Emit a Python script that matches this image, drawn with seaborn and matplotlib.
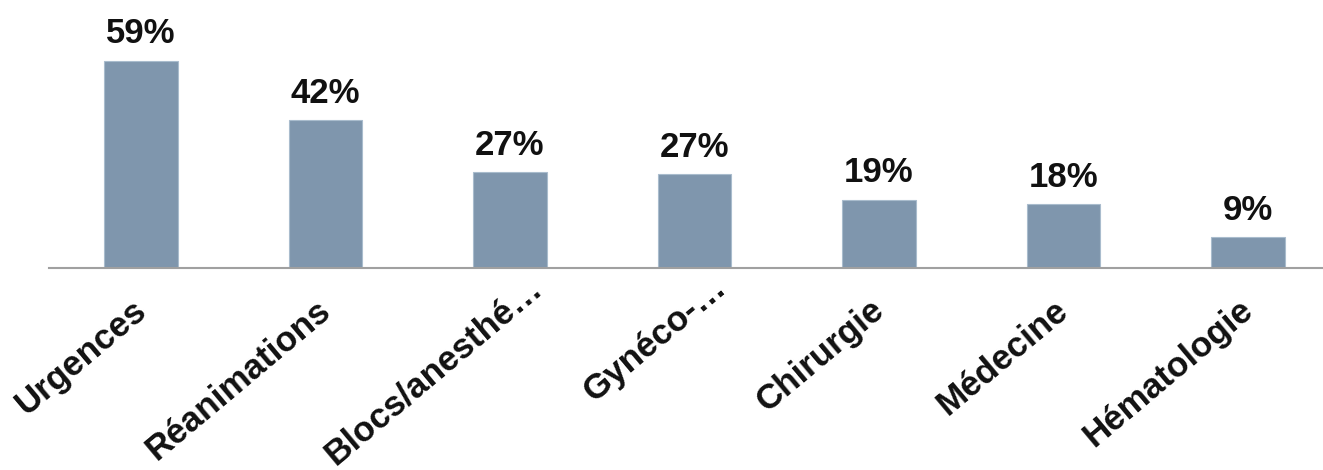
import math
import matplotlib
matplotlib.use("Agg")
import matplotlib.pyplot as plt
import matplotlib.transforms as mtransforms
import seaborn as sns
import pandas as pd

# Share of respondents by hospital department (%)
services = ["Urgences", "Réanimations", "Blocs/anesthé…", "Gynéco-…",
            "Chirurgie", "Médecine", "Hématologie"]
percent = [59.0, 42.0, 27.2, 26.6, 19.4, 18.2, 8.7]

df = pd.DataFrame({"service": services, "pct": percent})

sns.set_theme(style="white")
plt.rcParams["font.family"] = ["Liberation Sans", "DejaVu Sans"]

W, H = 1323, 470
DPI = 100
fig = plt.figure(figsize=(W / DPI, H / DPI), dpi=DPI)
left_px, base_px, slot_px = 48.75, 268, 184.5
ax = fig.add_axes([left_px / W, (H - base_px) / H,
                   slot_px * len(services) / W, base_px / H])

sns.barplot(data=df, x="service", y="pct", color="#7f96ad", saturation=1,
            width=0.4, edgecolor="#a9bccd", linewidth=0.8, ax=ax)

ax.set_xlim(-0.5, len(services) - 0.5)
ax.set_ylim(0, 59.0 * base_px / (base_px - 60.5))

for i, v in enumerate(df["pct"]):
    ax.annotate(f"{v:.0f}%", (i, v), xytext=(0, 7.5), textcoords="offset points",
                ha="center", va="bottom", fontsize=25, fontweight="bold",
                color="#111111")

ax.set_xlabel("")
ax.set_ylabel("")
ax.set_yticks([])
ax.tick_params(axis="x", length=0, pad=0)

# Slanted category labels: the end of each baseline sits just right of and
# below the tick; truncated names let their ellipsis (1 em) hang past it.
angle = 40
tick_fs = 25.2
em_px = tick_fs * DPI / 72
ca, sa = math.cos(math.radians(angle)), math.sin(math.radians(angle))
for lab in ax.get_xticklabels():
    hang = em_px if lab.get_text().endswith("…") else 0.0
    dx = 7 + hang * ca
    dy = -45 + hang * sa
    lab.set_rotation(angle)
    lab.set_ha("right")
    lab.set_va("baseline")
    lab.set_rotation_mode("anchor")
    lab.set_fontsize(tick_fs)
    lab.set_fontweight("bold")
    lab.set_color("#111111")
    lab.set_transform(lab.get_transform() + mtransforms.ScaledTranslation(
        dx / DPI, dy / DPI, fig.dpi_scale_trans))

for s in ["top", "right", "left"]:
    ax.spines[s].set_visible(False)
ax.spines["bottom"].set_color("#a0a0a0")
ax.spines["bottom"].set_linewidth(1.5)

fig.savefig("out.png", dpi=DPI)
